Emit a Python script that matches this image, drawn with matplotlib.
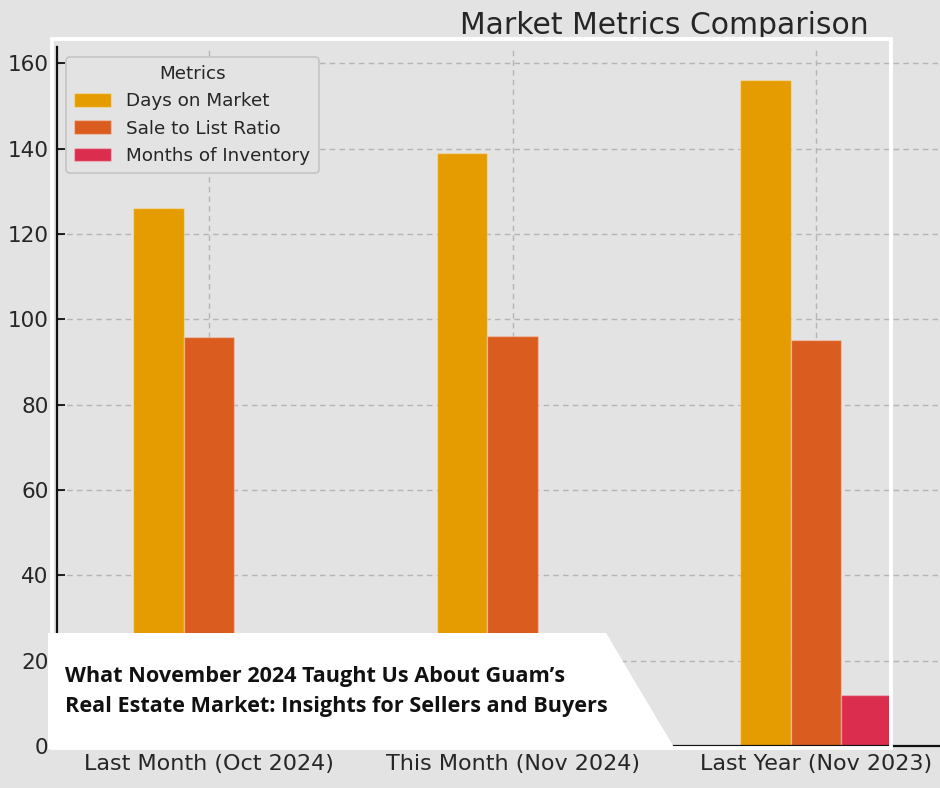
import numpy as np
import matplotlib
matplotlib.use("Agg")
import matplotlib.pyplot as plt
from matplotlib.patches import Polygon, Rectangle

categories = ["Last Month (Oct 2024)", "This Month (Nov 2024)", "Last Year (Nov 2023)"]
series_names = ["Days on Market", "Sale to List Ratio", "Months of Inventory"]
days_on_market = [126, 139, 156]
sale_to_list = [95.8, 96.0, 95.1]
months_inventory = [7, 8, 12]
colors = ["#E59C00", "#DA5D1F", "#DB2D4E"]
yticks = [0, 20, 40, 60, 80, 100, 120, 140, 160]
title = "Market Metrics Comparison"
banner_lines = ["What November 2024 Taught Us About Guam\u2019s",
                "Real Estate Market: Insights for Sellers and Buyers"]

W, H = 940, 788
BG = "#e3e3e3"
fig = plt.figure(figsize=(W / 100, H / 100), dpi=100, facecolor=BG)

def fx(px):
    return px / W

def fy(py):
    return 1 - py / H

AX_L, AX_R, AX_T, AX_B = 57, 968, 47, 746
ax = fig.add_axes([fx(AX_L), fy(AX_B), (AX_R - AX_L) / W, (AX_B - AX_T) / H])
ax.set_facecolor(BG)

x = np.arange(len(categories))
n = 3
w = 0.5 / n
data = [days_on_market, sale_to_list, months_inventory]
for i, (name, vals, c) in enumerate(zip(series_names, data, colors)):
    ax.bar(x + (i - 1) * w, vals, width=w, color=c, label=name,
           edgecolor=(1, 1, 1, 0.3), linewidth=1, zorder=2)

ax.set_xlim(-0.5, 2.5)
ax.set_ylim(0, 163.8)
ax.set_xticks(x)
ax.set_xticklabels(categories, fontsize=16, color="#262626")
ax.set_yticks(yticks)
ax.set_yticklabels([str(v) for v in yticks], fontsize=15.5, color="#262626")
ax.tick_params(direction="in", length=6, width=1.2, color="#000000", pad=6)
ax.grid(True, linestyle=(0, (4, 3)), color="#b5b5b5", linewidth=1, zorder=0)
ax.set_axisbelow(True)
for s in ["top", "right"]:
    ax.spines[s].set_visible(False)
for s in ["left", "bottom"]:
    ax.spines[s].set_color("#111111")
    ax.spines[s].set_linewidth(1.6)

leg = ax.legend(title="Metrics", loc="upper left",
                bbox_to_anchor=((66 - AX_L) / (AX_R - AX_L), (AX_B - 57) / (AX_B - AX_T)),
                borderaxespad=0,
                fontsize=13.2, title_fontsize=13.2, frameon=True, fancybox=True,
                facecolor=BG, edgecolor="#c4c4c4", framealpha=1,
                handlelength=2.0, handleheight=0.75, handletextpad=0.85,
                borderpad=0.45, labelspacing=0.5)
leg.get_frame().set_linewidth(1.2)
for t in leg.get_texts():
    t.set_color("#262626")
leg.get_title().set_color("#262626")

fig.text(fx(664), fy(25), title, ha="center", va="center", fontsize=21.5, color="#262626")

# white frame overlay
frame = Rectangle((fx(51.5), fy(748)), (891 - 51.5) / W, (748 - 38.5) / H,
                  transform=fig.transFigure, fill=False, edgecolor="white",
                  linewidth=2.8, zorder=10)
fig.patches.append(frame)

# banner
banner = Polygon([(fx(48), fy(633)), (fx(606), fy(633)), (fx(675), fy(749)), (fx(48), fy(749))],
                 closed=True, transform=fig.transFigure, facecolor="white",
                 edgecolor="none", zorder=11)
fig.patches.append(banner)

for line, base in zip(banner_lines, [682, 712]):
    fig.text(fx(65), fy(base), line, ha="left", va="baseline", fontsize=15.6,
             fontweight="bold", family=["Open Sans", "DejaVu Sans"], color="#111111", zorder=12)

fig.savefig("out.png", dpi=100, facecolor=BG)
